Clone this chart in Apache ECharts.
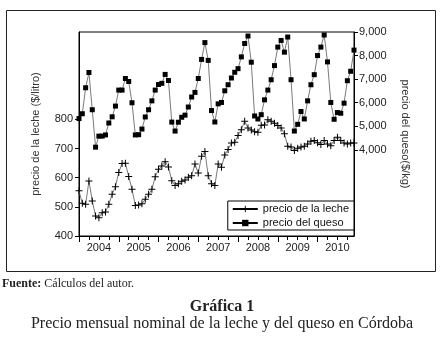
<!DOCTYPE html>
<html lang="es" style="height: 100%">
<head>
<meta charset="utf-8">
<title>Precio mensual nominal de la leche y del queso en Córdoba</title>
</head>
<body style="height: 100%; margin: 0; background: #fff">
<div id="container" style="width: 444px; height: 357px"></div>

<script type="text/javascript" src="https://cdn.jsdelivr.net/npm/echarts@6/dist/echarts.min.js"></script>

<script type="text/javascript">

var years = ['2004', '2005', '2006', '2007', '2008', '2009', '2010'];

// precio de la leche ($/litro), monthly Jan 2004 - Dec 2010
var leche = [
    555, 512, 509, 589, 520, 469, 463, 480, 482, 509, 543, 569,
    618, 649, 650, 604, 560, 505, 506, 511, 526, 543, 560, 603,
    629, 640, 655, 637, 590, 573, 579, 588, 592, 602, 607, 647,
    616, 674, 690, 607, 579, 573, 647, 636, 678, 697, 719, 722,
    745, 765, 794, 771, 764, 758, 756, 780, 781, 799, 794, 787,
    779, 771, 751, 708, 705, 693, 701, 705, 708, 716, 725, 728,
    720, 714, 728, 716, 710, 728, 739, 728, 719, 716, 719, 719
];

// precio del queso ($/kg)
var queso = [
    5325, 5530, 6633, 7280, 5700, 4111, 4580, 4580, 4630, 5137, 5400, 5855,
    6534, 6534, 7025, 6900, 5996, 4630, 4640, 4880, 5393, 5700, 6077, 6534,
    6770, 6820, 7200, 6940, 5175, 4795, 5170, 5380, 5470, 5815, 6240, 6436,
    7025, 7835, 8550, 7795, 5665, 5180, 5950, 6009, 6504, 6761, 7047, 7290,
    7444, 7944, 8513, 8829, 7718, 5436, 5308, 5490, 6120, 6534, 6974, 7573,
    8359, 8641, 8145, 8786, 6974, 4795, 5081, 5624, 5308, 6077, 6761, 7188,
    8000, 8359, 8872, 7731, 6009, 5295, 5581, 5551, 5979, 6932, 7333, 8231
];

var lecheTicks = [400, 500, 600, 700, 800];
var quesoTicks = [4000, 5000, 6000, 7000, 8000, 9000];

var months = [];
years.forEach(function (y) {
    for (var m = 1; m <= 12; m++) {
        months.push(y + '-' + (m < 10 ? '0' + m : m));
    }
});

var sans = 'Liberation Sans, Arial, sans-serif';
var serif = 'Liberation Serif, Times New Roman, serif';
var crossPath = 'path://M0,3H3V0H4V3H7V4H4V7H3V4H0Z';

var dom = document.getElementById('container');
var myChart = echarts.init(dom, null, { renderer: 'canvas' });

var option = {
    animation: false,
    backgroundColor: '#fff',
    grid: {
        left: 79,
        right: 90,
        top: 32,
        bottom: 121,
        show: true,
        borderColor: '#000',
        borderWidth: 1
    },
    legend: {
        orient: 'vertical',
        right: 90,
        top: 201,
        padding: [2, 5, 1, 4],
        itemGap: 2,
        itemWidth: 25,
        itemHeight: 8,
        backgroundColor: '#fff',
        borderColor: '#000',
        borderWidth: 1,
        borderRadius: 0,
        textStyle: { fontFamily: sans, fontSize: 11, color: '#111', lineHeight: 12 },
        data: [
            { name: 'precio de la leche', itemStyle: { color: '#000' }, lineStyle: { color: '#000' } },
            { name: 'precio del queso', itemStyle: { color: '#000' }, lineStyle: { color: '#000' } }
        ]
    },
    xAxis: [
        {
            type: 'category',
            data: months,
            boundaryGap: false,
            position: 'bottom',
            axisLine: { lineStyle: { color: '#000', width: 1 } },
            axisTick: {
                length: 4,
                interval: function (i) { return i % 3 === 0; },
                lineStyle: { color: '#000' }
            },
            axisLabel: {
                interval: function (i) { return i % 12 === 6; },
                formatter: function (v) { return v.slice(0, 4); },
                fontFamily: sans,
                fontSize: 11,
                color: '#222',
                margin: 6
            },
            splitLine: { show: false }
        },
        {
            type: 'category',
            data: months,
            boundaryGap: false,
            position: 'bottom',
            axisLine: { show: false },
            axisTick: {
                length: 6,
                interval: function (i) { return i % 12 === 0; },
                lineStyle: { color: '#000' }
            },
            axisLabel: { show: false },
            splitLine: { show: false }
        }
    ],
    yAxis: [
        {
            type: 'value',
            position: 'left',
            min: 400,
            max: 1100,
            interval: 100,
            name: 'precio de la leche ($/litro)',
            nameLocation: 'middle',
            nameGap: 38,
            nameRotate: 90,
            nameTextStyle: { fontFamily: sans, fontSize: 11, color: '#333' },
            axisLine: { show: true, lineStyle: { color: '#000' } },
            axisTick: { show: true, length: 4, customValues: lecheTicks, lineStyle: { color: '#000' } },
            axisLabel: {
                customValues: lecheTicks,
                fontFamily: sans,
                fontSize: 11,
                color: '#222',
                margin: 6
            },
            splitLine: { show: false }
        },
        {
            type: 'value',
            position: 'right',
            min: 340,
            max: 9000,
            name: 'precio del queso($/kg)',
            nameLocation: 'middle',
            nameGap: 46,
            nameRotate: -90,
            nameTextStyle: { fontFamily: sans, fontSize: 11, color: '#333' },
            axisLine: { show: true, lineStyle: { color: '#000' } },
            axisTick: { show: true, length: 4, customValues: quesoTicks, lineStyle: { color: '#000' } },
            axisLabel: {
                customValues: quesoTicks,
                formatter: function (v) { return String(v).replace(/\B(?=(\d{3})+(?!\d))/g, ','); },
                fontFamily: sans,
                fontSize: 11,
                color: '#222',
                margin: 5
            },
            splitLine: { show: false }
        }
    ],
    series: [
        {
            name: 'precio de la leche',
            type: 'line',
            xAxisIndex: 0,
            yAxisIndex: 0,
            data: leche,
            symbol: crossPath,
            symbolSize: 7,
            showAllSymbol: true,
            itemStyle: { color: '#000' },
            lineStyle: { color: '#7a7a7a', width: 1 }
        },
        {
            name: 'precio del queso',
            type: 'line',
            xAxisIndex: 0,
            yAxisIndex: 1,
            data: queso,
            symbol: 'rect',
            symbolSize: 5,
            showAllSymbol: true,
            itemStyle: { color: '#000' },
            lineStyle: { color: '#7a7a7a', width: 1 }
        }
    ],
    graphic: [
        {
            type: 'rect',
            shape: { x: 6.5, y: 10.5, width: 429, height: 261 },
            style: { fill: 'none', stroke: '#222', lineWidth: 1 },
            silent: true
        },
        {
            type: 'text',
            x: 2,
            y: 284,
            style: {
                text: '{b|Fuente:} Cálculos del autor.',
                font: '12px ' + serif,
                fill: '#222',
                verticalAlign: 'middle',
                rich: {
                    b: { fontFamily: serif, fontSize: 12, fontWeight: 'bold', fill: '#222' }
                }
            }
        },
        {
            type: 'text',
            x: 222,
            y: 307,
            style: {
                text: 'Gráfica 1',
                font: 'bold 16px ' + serif,
                fill: '#222',
                align: 'center',
                verticalAlign: 'middle'
            }
        },
        {
            type: 'text',
            x: 222,
            y: 324,
            style: {
                text: 'Precio mensual nominal de la leche y del queso en Córdoba',
                font: '16px ' + serif,
                fill: '#222',
                align: 'center',
                verticalAlign: 'middle'
            }
        }
    ]
};

if (option && typeof option === 'object') {
    myChart.setOption(option);
}

window.addEventListener('resize', myChart.resize);
</script>
</body>
</html>
